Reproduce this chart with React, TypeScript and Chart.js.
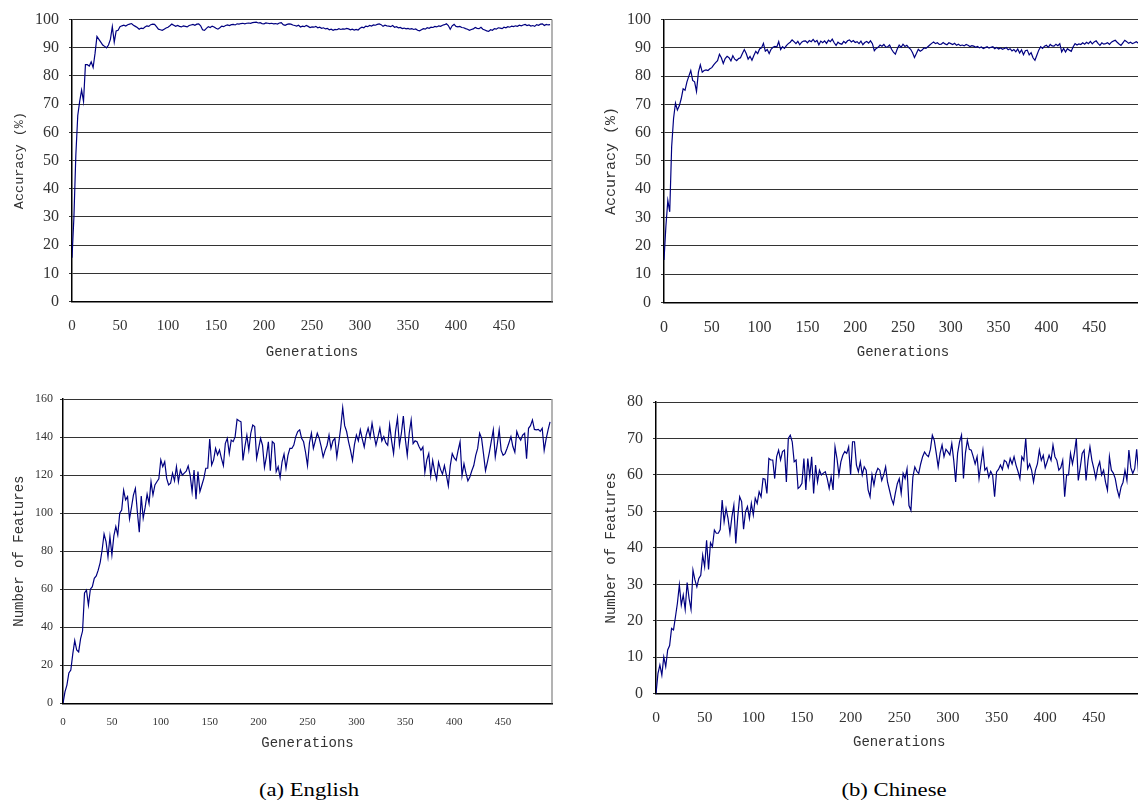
import React, { useEffect, useRef } from "react";
import { Chart, registerables } from "chart.js";

Chart.register(...registerables);

// ---------------- data (values sampled every STEP generations) ----------------
const STEP = 2;
const xTickValues = [0, 50, 100, 150, 200, 250, 300, 350, 400, 450];

const accEnglish = [
  15.5, 30, 52, 66, 71, 75, 71, 84, 84, 83.5,
  85, 83, 88, 94, 93, 92, 91, 90.5, 90, 91,
  93, 97.5, 92, 96, 96.2, 97.5, 97.8, 98, 97.7, 98.2,
  98.4, 98.6, 98, 97.6, 97.2, 96.6, 97, 96.8, 97.4, 97.8,
  97.6, 98.2, 98.4, 98.3, 97.5, 96.6, 96.4, 96.2, 96.6, 97,
  97.3, 97.8, 98.4, 98, 97.6, 97.9, 97.6, 97.4, 97.8, 97.6,
  97.4, 97.9, 98.1, 98.3, 98, 98.4, 98.5, 97.8, 96.4, 96.2,
  96.9, 97.5, 97.2, 97.7, 97.4, 96.9, 96.6, 97.1, 97.7, 97.5,
  97.9, 98.1, 97.9, 98.2, 98.3, 98.1, 98.5, 98.4, 98.6, 98.7,
  98.5, 98.7, 98.8, 98.7, 98.9, 99, 99.1, 98.8, 98.9, 98.6,
  98.5, 98.8, 98.7, 98.6, 98.7, 98.5, 98.6, 98.4, 98.8, 98.9,
  98.2, 98, 98.3, 98.5, 98.4, 98.1, 97.9, 97.7, 98, 97.4,
  97.7, 97.5, 97.9, 97.6, 97.2, 97.4, 97.3, 97.6, 97.1, 97.3,
  96.9, 97.1, 96.7, 96.9, 96.4, 96.6, 96.2, 96.5, 96.4, 96.8,
  96.5, 96.7, 96.6, 96.9, 96.7, 96.4, 96.6, 96.3, 96.5, 96.3,
  96.9, 97.3, 97.1, 97.7, 97.5, 97.9, 97.7, 98.1, 98, 98.3,
  98.5, 98.2, 97.6, 98, 97.8, 97.7, 97.5, 97.9, 97.3, 97.5,
  97.1, 97.2, 96.8, 97, 96.7, 96.9, 96.6, 96.8, 96.5, 96.7,
  96.2, 96, 96.4, 96.8, 96.6, 97.1, 96.9, 97.3, 97.2, 97.6,
  97.4, 97.8, 97.6, 98, 98.2, 98.5, 97.9, 96.6, 97.8, 98.3,
  97.6, 97.4, 97.6, 97.2, 97.1, 96.8, 96.6, 96.2, 96.5, 96.7,
  97.2, 96.9, 96.8, 97.3, 96.6, 96.3, 96, 95.8, 96.4, 96.2,
  96.8, 96.6, 97.1, 97, 96.8, 97.3, 97.1, 97.5, 97.3, 97.7,
  97.5, 97.8, 97.6, 98, 97.8, 98.1, 98.3, 97.9, 98.1, 97.7,
  97.9, 97.6, 98.2, 98, 98.4, 98.5, 97.9, 98.3, 98.1, 98.2,
];

const accChinese = [
  15, 27, 36, 32, 55, 65, 70.5, 68, 69.5, 72,
  75.5, 75, 78, 80, 82, 78.5, 78, 74.6, 81.4, 84,
  81.4, 82, 82.2, 82, 82.6, 83, 84, 84.8, 85.5, 87.7,
  86.5, 84.5, 86.2, 87, 86.5, 85.4, 87.2, 86, 85.5, 86.2,
  86.5, 88, 89.4, 88, 86, 87, 85.6, 87.3, 88.8, 88,
  89.6, 90, 91.6, 88.8, 89.4, 88, 89.5, 90.2, 90.5, 90.3,
  92.2, 89.4, 90.4, 89.8, 90.8, 91.5, 92, 92.8, 92.2, 91.5,
  92.3, 91.1, 92, 92.4, 92.5, 91.8, 92.6, 92.2, 93, 92.1,
  92.6, 91.1, 92.4, 91.8, 92.5, 91.6, 92.7, 92.2, 93.1, 91.8,
  90.9, 92, 91.5, 91.3, 92.3, 91.7, 92.5, 92.8, 92.1, 92.6,
  91.9, 92.2, 91.5, 92.4, 91.1, 91.9, 92.3, 91.7, 92.5, 91.5,
  89, 89.8, 90.2, 91, 90.6, 91.2, 90.3, 90.4, 91, 89.5,
  88.5, 87.8, 89.6, 91, 90.2, 91.3, 90.5, 90.9, 90.1, 89.5,
  88.3, 86.6, 88, 89.5, 88.8, 89.2, 90, 89.8, 90.4, 91,
  91.6, 92.1, 91.5, 91.8, 91.2, 91.3, 91.9, 91.4, 91.1, 91.8,
  91.5, 91.2, 91.6, 90.9, 91.3, 90.8, 91, 90.7, 91.2, 90.9,
  90.5, 90.8, 90.6, 90.2, 90.5, 90, 90.3, 89.8, 90.1, 90.4,
  89.9, 90.2, 90.4, 89.7, 90.1, 89.6, 90, 89.5, 89.8, 90.1,
  89.3, 89.7, 88.9, 89.4, 88.6, 89.6, 88.2, 89.3, 87.6, 89,
  89.2, 87.5, 88.3, 86.5, 85.6, 87.4, 89.2, 90.4, 89.8, 90.6,
  90.9, 90.2, 91.2, 90.7, 90.6, 91.3, 90.8, 91.5, 88.6, 89.8,
  88.5, 89.7, 89.2, 88.8, 90.4, 91.5, 91, 91.4, 91.2, 91.8,
  91.3, 92, 91.5, 92.3, 91.4, 92.1, 92.5, 91.6, 90.9, 91.8,
  91.3, 91.5, 91.8, 91.2, 92, 92.4, 92.7, 92, 91.4, 90.9,
  91.8, 92.7, 92.2, 91.6, 92, 91.5, 91.8, 92.2, 91.7, 92,
];

const featEnglish = [
  0, 6, 9.6, 16, 17.5, 26, 33, 28, 27, 34,
  38, 58, 59.5, 51.7, 60, 61.3, 65.7, 67, 70, 74,
  80.6, 89, 85, 77, 87.6, 78, 88, 92.9, 88.5, 100,
  101.6, 112, 107, 108.7, 97, 103, 109.5, 113, 100.8, 90,
  109, 97.3, 103, 110, 105, 116.5, 109.5, 114.8, 116.5, 118,
  128, 124.4, 127, 118.3, 114.8, 115.7, 121, 117, 124.4, 116.5,
  122.7, 120, 121, 122, 124.8, 120, 111.3, 122.7, 107.3, 121.8,
  111.3, 114.8, 118.3, 123.6, 123.6, 139, 125.3, 128, 134, 130.6,
  133.2, 128.8, 125, 136.7, 139.3, 131.4, 138.4, 137.6, 140.2, 149.3,
  148.6, 148, 127.7, 135, 141, 133.2, 142, 146.3, 145.5, 128.8,
  134, 139.3, 135.7, 124, 129.7, 137.5, 122.3, 137.6, 136.6, 121.8,
  124.4, 118.7, 127, 131, 123.6, 130.4, 134, 134, 135.8, 140.2,
  142.9, 143.8, 139.3, 137.5, 132, 125, 137, 142, 134, 138,
  142, 139.3, 135, 129.5, 133, 135.7, 141, 134, 138, 139.3,
  129.5, 137, 145, 155.4, 146, 142.9, 137.5, 133, 127.7, 136,
  141, 138, 143.8, 139, 134.8, 141, 144.6, 140, 147.3, 141,
  135.7, 140, 144.6, 138, 140.2, 137, 135.7, 146.4, 138, 131.3,
  143, 150, 135.7, 142, 151, 139, 130.4, 142, 149, 136.6,
  138, 137.5, 135, 133, 134.8, 121.4, 128, 131.3, 119.6, 127.7,
  122, 117.8, 126.8, 123, 120.5, 125, 120, 114.3, 125, 131.3,
  129, 127.7, 133, 137.5, 119.6, 125.9, 121, 117, 119, 122.3,
  125, 130.4, 134, 142, 139.3, 131, 122.3, 127, 132.1, 138,
  143.8, 129.5, 136, 143.8, 133, 130.4, 131.3, 134, 137, 140.2,
  135, 132, 142.9, 140, 138.4, 141, 142, 128.6, 144.6, 146,
  149, 144, 143.8, 144, 143, 144.6, 133, 139, 143.8, 148,
];

const featChinese = [
  0, 5.5, 7.9, 5.1, 10.1, 7.4, 12, 13.2, 17.9, 17.5,
  21.1, 24.8, 29.8, 24.3, 27.1, 23.1, 30.5, 26.1, 23.1, 33.9,
  31.2, 29.3, 31.6, 32.5, 38, 34.8, 42.1, 34.1, 41.4, 40.3,
  44.9, 44, 44, 45, 53.1, 47.2, 50.8, 48.1, 44, 48.5,
  51.7, 41.2, 48.5, 54, 52.7, 45.1, 49.9, 51.3, 48.1, 52.2,
  49, 53.6, 52.2, 55.4, 54, 59, 58.8, 54.9, 64.5, 64.1,
  64.1, 59, 65, 66.8, 64.1, 66.4, 66.8, 58.1, 70, 70.9,
  69.1, 63.6, 64.1, 56.3, 56.8, 57.7, 64.5, 55.9, 64.5, 59.5,
  65, 54.9, 62.7, 58.1, 61.3, 60, 60.5, 60.9, 59, 56.3,
  59.5, 55.9, 67.7, 64.5, 60, 63.6, 65.4, 66.4, 65.9, 67.7,
  60, 69.1, 69.1, 62.7, 60.9, 63.6, 60, 62.2, 61.3, 55.9,
  54, 60, 57.2, 60.4, 61.8, 61.3, 58.5, 60, 62.2, 58,
  55.8, 53.5, 52, 55, 57.6, 59, 54.9, 60.4, 59, 61.7,
  51.6, 50.3, 59.4, 62.2, 61, 60.4, 63, 65, 66.3, 65.5,
  65, 67, 70.9, 69.5, 66, 62.2, 66, 68.2, 65, 67,
  66.3, 65.5, 68.6, 64, 58.1, 66, 69.1, 70.9, 59, 66,
  69.5, 67, 66.8, 65, 63, 65, 59, 63, 66.8, 61.3,
  62, 59.4, 61, 59.9, 54, 60.8, 61.5, 62.7, 61.5, 64,
  63.6, 62, 64.5, 63, 65, 62.7, 61, 59, 65, 64,
  70, 61.7, 63, 61.3, 58.1, 61.3, 63, 66.8, 64, 65.4,
  62, 63.6, 65.4, 64, 68.2, 65, 64, 61.3, 62, 64,
  54, 60, 60, 65.9, 63, 66, 70, 58.5, 62, 65.9,
  66.8, 58.5, 64, 67.7, 64, 61.7, 59, 62, 63.6, 60,
  61.3, 58, 55.8, 65, 61.3, 60.5, 59, 56, 54, 56.7,
  58, 61.3, 58.5, 66.8, 62, 60.4, 61.7, 67, 60.5, 61,
];

// ---------------- styling ----------------
const SERIF = '"Liberation Serif", "Times New Roman", serif';
const MONO = '"Liberation Mono", "DejaVu Sans Mono", monospace';
const LINE_COLOR = "#000080";
const GRID_COLOR = "#333333";
const TEXT_COLOR = "#333333";

type PanelSpec = {
  values: number[];
  left: number;
  top: number;
  width: number;
  height: number;
  padTop: number;
  padRight: number;
  yWidth: number;
  xHeight: number;
  yMax: number;
  yStep: number;
  yTitle: string;
  yTitleSize: number;
  yTitlePad: number;
  yTickSize: number;
  yTickPad: number;
  xTickSize: number;
  xTickPad: number;
};

const panels: PanelSpec[] = [
  {
    values: accEnglish, left: 0, top: 0, width: 560, height: 365,
    padTop: 12, padRight: 8, yWidth: 72, xHeight: 63.5,
    yMax: 100, yStep: 10, yTitle: "Accuracy (%)", yTitleSize: 13.5, yTitlePad: 11,
    yTickSize: 16, yTickPad: 10, xTickSize: 15, xTickPad: 16,
  },
  {
    values: accChinese, left: 590, top: 0, width: 560, height: 365,
    padTop: 11, padRight: 8, yWidth: 74, xHeight: 62.7,
    yMax: 100, yStep: 10, yTitle: "Accuracy (%)", yTitleSize: 15, yTitlePad: 12.5,
    yTickSize: 16, yTickPad: 10, xTickSize: 16, xTickPad: 15.4,
  },
  {
    values: featEnglish, left: 0, top: 380, width: 560, height: 376,
    padTop: 19, padRight: 8, yWidth: 63, xHeight: 52.7,
    yMax: 160, yStep: 20, yTitle: "Number of Features", yTitleSize: 14, yTitlePad: 10.6,
    yTickSize: 12, yTickPad: 7, xTickSize: 11, xTickPad: 12,
  },
  {
    values: featChinese, left: 590, top: 380, width: 560, height: 375,
    padTop: 22, padRight: 7.5, yWidth: 66, xHeight: 61.3,
    yMax: 80, yStep: 10, yTitle: "Number of Features", yTitleSize: 14, yTitlePad: 12.4,
    yTickSize: 16, yTickPad: 10, xTickSize: 15.5, xTickPad: 14.5,
  },
];

const rightBorder = {
  id: "rightBorder",
  afterDraw(chart: any) {
    const { ctx, chartArea } = chart;
    ctx.save();
    ctx.strokeStyle = "#9a9a9a";
    ctx.lineWidth = 1.5;
    ctx.beginPath();
    ctx.moveTo(chartArea.right, chartArea.top);
    ctx.lineTo(chartArea.right, chartArea.bottom);
    ctx.stroke();
    ctx.restore();
  },
};

function Panel({ spec }: { spec: PanelSpec }) {
  const ref = useRef<HTMLCanvasElement | null>(null);
  useEffect(() => {
    if (!ref.current) return;
    const points = spec.values.map((v, i) => ({ x: i * STEP, y: v }));
    const chart = new Chart(ref.current, {
      type: "line",
      data: {
        datasets: [
          {
            data: points,
            borderColor: LINE_COLOR,
            borderWidth: 1.2,
            pointRadius: 0,
            tension: 0,
            fill: false,
          },
        ],
      },
      options: {
        responsive: false,
        animation: false,
        devicePixelRatio: 1,
        layout: { padding: { left: 0, top: spec.padTop, right: spec.padRight, bottom: 0 } },
        plugins: { legend: { display: false }, tooltip: { enabled: false } },
        scales: {
          x: {
            type: "linear",
            min: 0,
            max: 500,
            afterBuildTicks: (s: any) => {
              s.ticks = xTickValues.map((v) => ({ value: v }));
            },
            afterFit: (s: any) => {
              s.height = spec.xHeight;
            },
            grid: { display: false, drawTicks: false, tickLength: 0 },
            border: { display: true, color: "#000", width: 1.5 },
            ticks: {
              autoSkip: false,
              maxRotation: 0,
              padding: spec.xTickPad,
              color: TEXT_COLOR,
              font: { family: SERIF, size: spec.xTickSize },
            },
            title: {
              display: true,
              text: "Generations",
              color: TEXT_COLOR,
              font: { family: MONO, size: 14 },
              padding: { top: 0, bottom: 4 },
            },
          },
          y: {
            type: "linear",
            min: 0,
            max: spec.yMax,
            afterFit: (s: any) => {
              s.width = spec.yWidth;
            },
            grid: { color: GRID_COLOR, lineWidth: 1, drawTicks: true, tickLength: 3 },
            border: { display: true, color: "#000", width: 1.5 },
            ticks: {
              stepSize: spec.yStep,
              padding: spec.yTickPad,
              color: TEXT_COLOR,
              font: { family: SERIF, size: spec.yTickSize },
            },
            title: {
              display: true,
              text: spec.yTitle,
              color: TEXT_COLOR,
              font: { family: MONO, size: spec.yTitleSize },
              padding: { top: spec.yTitlePad, bottom: 0 },
            },
          },
        },
      },
      plugins: [rightBorder],
    } as any);
    return () => chart.destroy();
  }, [spec]);
  return (
    <canvas
      ref={ref}
      width={spec.width}
      height={spec.height}
      style={{
        position: "absolute",
        left: spec.left,
        top: spec.top,
        width: spec.width,
        height: spec.height,
      }}
    />
  );
}

const captions = [
  { text: "(a) English", center: 309 },
  { text: "(b) Chinese", center: 894 },
];

export default function App() {
  return (
    <div
      style={{
        position: "fixed",
        left: 0,
        top: 0,
        width: 1138,
        height: 804,
        overflow: "hidden",
        background: "#fff",
      }}
    >
      {panels.map((p, i) => (
        <Panel key={i} spec={p} />
      ))}
      {captions.map((c) => (
        <div
          key={c.text}
          style={{
            position: "absolute",
            left: c.center - 150,
            width: 300,
            top: 780,
            lineHeight: "20px",
            textAlign: "center",
            fontFamily: SERIF,
            fontSize: 18,
            color: "#000",
            transform: "scaleX(1.26)",
          }}
        >
          {c.text}
        </div>
      ))}
    </div>
  );
}
